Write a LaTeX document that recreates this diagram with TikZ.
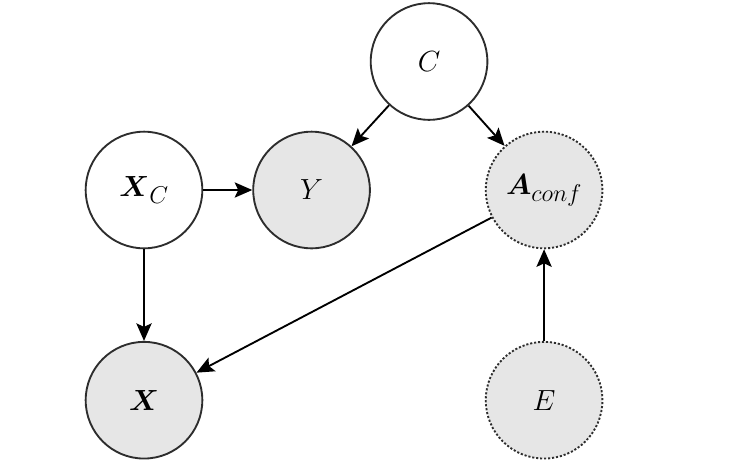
\documentclass[tikz,border=0pt]{standalone}
\usepackage{amsmath}
\usepackage{xcolor}
\usetikzlibrary{arrows.meta,positioning,calc}
\definecolor{nodeline}{RGB}{45,45,45}
\definecolor{nodefill}{RGB}{230,230,230}
\tikzset{
  latvar/.style={circle, draw=nodeline, fill=white, line width=1.6pt,
    minimum size=3.5cm, inner sep=0pt,
    font=\fontsize{28}{32}\selectfont},
  obsvar/.style={latvar, fill=nodefill},
  envvar/.style={obsvar, dash pattern=on 1.8pt off 1.6pt},
  arr/.style={-{Stealth[length=15pt, width=13pt, inset=3pt]}, line width=1.6pt, color=black}
}
\begin{document}
\begin{tikzpicture}[node distance=2.75cm and 1.47cm]
\useasboundingbox (0,0) rectangle (22.41,-14.1);

%% ── NODES ──────────────────────────────────────────────────────────
\node[latvar] at (4.32,-5.70)       (xc)   {$\boldsymbol{X}_C$};
\node[obsvar, right=of xc]          (y)    {$Y$};
\node[envvar, right=3.42cm of y, font=\fontsize{31}{35}\selectfont]
                                    (aconf){$\boldsymbol{A}_{conf}$};
\node[obsvar, below=of xc]          (x)    {$\boldsymbol{X}$};
\node[envvar, below=of aconf]       (e)    {$E$};
\node[latvar] at ($(y)+(3.525,3.855)$) (c) {$C$};

%% ── ARROWS ─────────────────────────────────────────────────────────
\draw[arr] (c)--(y);
\draw[arr] (c)--(aconf);
\draw[arr] (xc)--(y);
\draw[arr] (xc)--(x);
\draw[arr] (aconf)--(x);
\draw[arr] (e)--(aconf);

\end{tikzpicture}
\end{document}
